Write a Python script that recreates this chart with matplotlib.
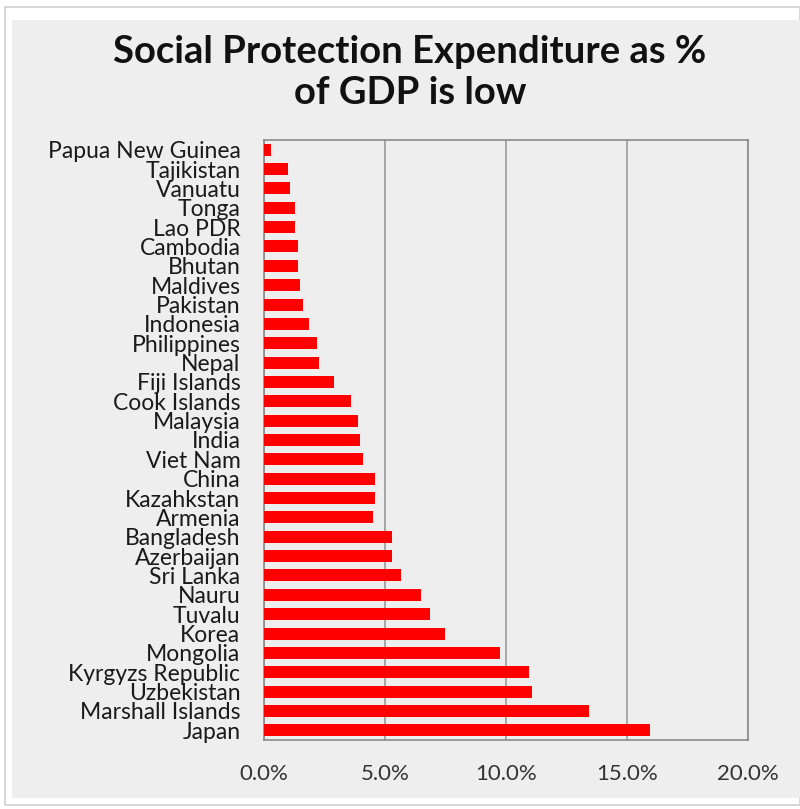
import matplotlib.pyplot as plt
from matplotlib.patches import Rectangle
from matplotlib.ticker import PercentFormatter

# values, top to bottom
paises = ["Papua New Guinea", "Tajikistan", "Vanuatu", "Tonga", "Lao PDR", "Cambodia",
          "Bhutan", "Maldives", "Pakistan", "Indonesia", "Philippines", "Nepal",
          "Fiji Islands", "Cook Islands", "Malaysia", "India", "Viet Nam", "China",
          "Kazahkstan", "Armenia", "Bangladesh", "Azerbaijan", "Sri Lanka", "Nauru",
          "Tuvalu", "Korea", "Mongolia", "Kyrgyzs Republic", "Uzbekistan",
          "Marshall Islands", "Japan"]
gasto = [0.29, 0.98, 1.07, 1.27, 1.27, 1.42, 1.42, 1.50, 1.60, 1.87, 2.20, 2.29,
         2.91, 3.60, 3.88, 3.97, 4.08, 4.59, 4.59, 4.49, 5.29, 5.29, 5.66, 6.49,
         6.86, 7.48, 9.75, 10.96, 11.06, 13.44, 15.95]
ticks_x = [0, 5, 10, 15, 20]

fondo = '#eeeeee'
fuente = 'Lato'

fig = plt.figure(figsize=(8, 8.09), dpi=100)
fig.patch.set_facecolor('white')
W, H = 800, 809
# outer light frame and grey panel (behind the axes)
fig.patches.append(Rectangle((5 / W, 1 - 805 / H), 795 / W, 798 / H, transform=fig.transFigure,
                             facecolor='white', edgecolor='#d0d0d0', linewidth=1.2, zorder=-20))
fig.patches.append(Rectangle((12 / W, 1 - 798 / H), 788 / W, 778 / H, transform=fig.transFigure,
                             facecolor=fondo, edgecolor='none', zorder=-10))

ax = fig.add_axes([264 / W, 1 - 740 / H, 484 / W, 600 / H])
ax.set_facecolor(fondo)

y = list(range(len(paises)))
ax.barh(y, gasto, height=0.62, color='#ff0000', zorder=3)
ax.set_ylim(len(paises) - 0.5, -0.5)
ax.set_xlim(0, 20)
ax.set_xticks(ticks_x)
ax.xaxis.set_major_formatter(PercentFormatter(decimals=1))
ax.set_yticks(y)
ax.set_yticklabels(paises, fontsize=16.5, family=fuente, color='#1a1a1a')
for lbl in ax.get_xticklabels():
    lbl.set_fontsize(16)
    lbl.set_family(fuente)
    lbl.set_color('#333333')
ax.tick_params(axis='y', length=0, pad=17)
ax.tick_params(axis='x', length=0, pad=17)
ax.grid(axis='x', color='#9a9a9a', linewidth=1.2, zorder=0)
for s in ax.spines.values():
    s.set_color('#8a8a8a')
    s.set_linewidth(1.2)

fig.text(410 / W, 1 - 52 / H, "Social Protection Expenditure as %", ha='center', va='center',
         fontsize=27.5, fontweight='bold', family=fuente, color='#111111')
fig.text(410 / W, 1 - 93 / H, "of GDP is low", ha='center', va='center',
         fontsize=27.5, fontweight='bold', family=fuente, color='#111111')

fig.savefig('out.png', dpi=100, facecolor=fig.get_facecolor())
